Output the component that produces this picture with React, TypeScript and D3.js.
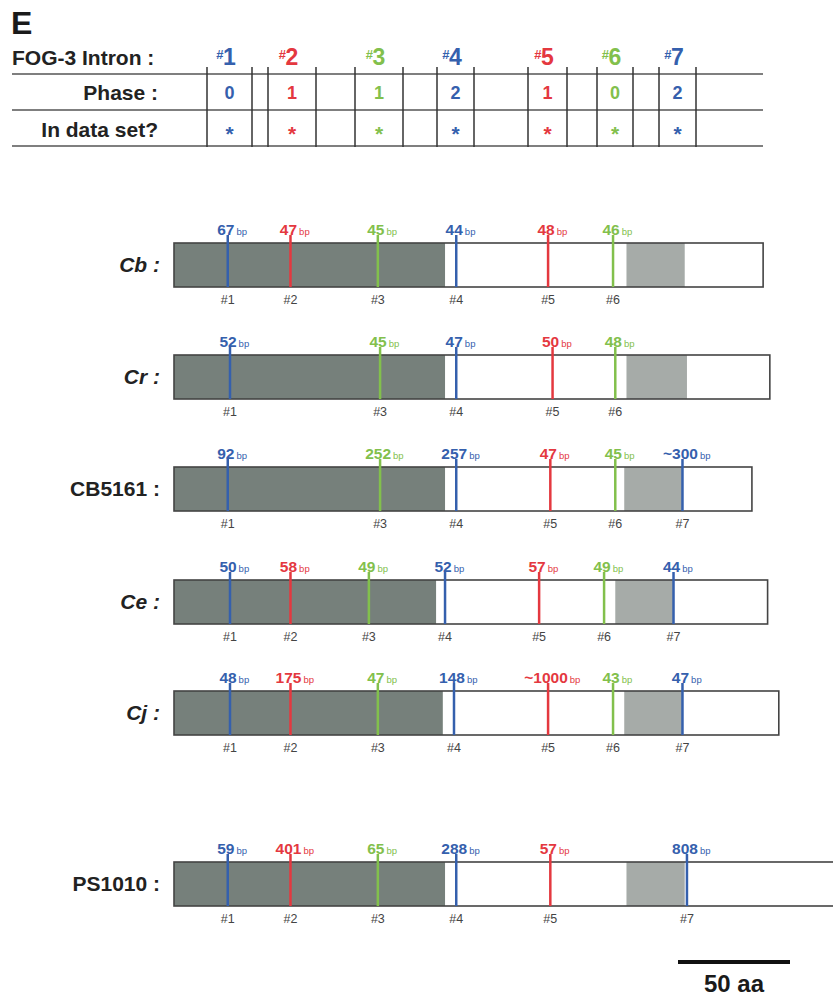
import React from "react";
import * as d3 from "d3";

// ---- data ----
const intronIds = [1, 2, 3, 4, 5, 6, 7];
const phases = ["0", "1", "1", "2", "1", "0", "2"];
const inDataSet = ["*", "*", "*", "*", "*", "*", "*"];
const intronColorKey = ["blue", "red", "green", "blue", "red", "green", "blue"];

const speciesNames = ["Cb", "Cr", "CB5161", "Ce", "Cj", "PS1010"];
const speciesItalic = [true, true, false, true, true, false];
// protein length (aa)
const proteinLength = [263, 266, 258, 265, 270, 300];
// dark domain end (aa)
const darkEnd = [121, 121, 121, 117, 120, 121];
// light domain [start, end] (aa)
const lightStart = [202, 202, 201, 197, 201, 202];
const lightEnd = [228, 229, 227, 223, 227, 228];
// intron positions (aa) per species; null = absent
const intronPos: (number | null)[][] = [
  [24, 52, 91, 126, 167, 196, null],
  [25, null, 92, 126, 169, 197, null],
  [24, null, 92, 126, 168, 197, 227],
  [25, 52, 87, 121, 163, 192, 223],
  [25, 52, 91, 125, 167, 196, 227],
  [24, 52, 91, 126, 168, null, 229],
];
// intron sizes (bp labels)
const intronSize: (string | null)[][] = [
  ["67", "47", "45", "44", "48", "46", null],
  ["52", null, "45", "47", "50", "48", null],
  ["92", null, "252", "257", "47", "45", "~300"],
  ["50", "58", "49", "52", "57", "49", "44"],
  ["48", "175", "47", "148", "~1000", "43", "47"],
  ["59", "401", "65", "288", "57", null, "808"],
];
const scaleBarAA = 50;

// ---- styles / layout ----
const COLORS: Record<string, string> = {
  blue: "#3560ad",
  red: "#e4383f",
  green: "#82c04c",
};
const DARK = "#76807b";
const LIGHT = "#a6aba8";
const FONT = "'Liberation Sans', Arial, Helvetica, sans-serif";
const W = 833;
const H = 1000;
const tableCols: [number, number][] = [
  [207, 252],
  [268, 316],
  [355, 403],
  [437, 474],
  [528, 567],
  [597, 633],
  [659, 696],
];
const rowTop = [243, 355, 467, 580, 691, 862];
const BAR_H = 44;

export default function App() {
  const x = d3.scaleLinear().domain([0, 100]).range([174, 174 + 224]);
  const tableY = [74, 110, 146];

  const labelW = (s: string, fs: number) =>
    s.split("").reduce((a, c) => a + (c === "~" ? 0.584 : 0.556), 0) * fs;

  return (
    <svg
      width={W}
      height={H}
      style={{ position: "absolute", left: 0, top: 0, background: "#fff" }}
      fontFamily={FONT}
    >
      <rect x={0} y={0} width={W} height={H} fill="#fff" />
      {/* Panel letter */}
      <text x={11} y={34} fontSize={32} fontWeight="bold" fill="#1a1a1a">
        E
      </text>
      {/* Table header */}
      <text x={12} y={65} fontSize={21} fontWeight="bold" fill="#222">
        FOG-3 Intron :
      </text>
      <text x={158} y={100} fontSize={21} fontWeight="bold" fill="#222" textAnchor="end">
        Phase :
      </text>
      <text x={158} y={137} fontSize={21} fontWeight="bold" fill="#222" textAnchor="end">
        In data set?
      </text>
      {tableY.map((y, i) => (
        <line key={i} x1={12} x2={763} y1={y} y2={y} stroke="#555" strokeWidth={1.6} />
      ))}
      {tableCols.map(([l, r], i) => {
        const c = (l + r) / 2;
        const col = COLORS[intronColorKey[i]];
        return (
          <g key={i}>
            <line x1={l} x2={l} y1={67} y2={147} stroke="#333" strokeWidth={1.5} />
            <line x1={r} x2={r} y1={67} y2={147} stroke="#333" strokeWidth={1.5} />
            <text x={c - 6} y={59} fontSize={13} fontWeight="bold" fill={col} textAnchor="end">
              #
            </text>
            <text x={c} y={65} fontSize={23} fontWeight="bold" fill={col} textAnchor="middle">
              {intronIds[i]}
            </text>
            <text x={c} y={99} fontSize={18} fontWeight="bold" fill={col} textAnchor="middle">
              {phases[i]}
            </text>
            <text x={c} y={141} fontSize={21} fontWeight="bold" fill={col} textAnchor="middle">
              {inDataSet[i]}
            </text>
          </g>
        );
      })}

      {/* Gene bars */}
      {speciesNames.map((name, si) => {
        const top = rowTop[si];
        const x0 = x(0);
        const x1 = x(proteinLength[si]);
        return (
          <g key={name}>
            <text
              x={160}
              y={top + BAR_H / 2 + 7}
              fontSize={21}
              fontWeight="bold"
              fontStyle={speciesItalic[si] ? "italic" : "normal"}
              fill="#222"
              textAnchor="end"
            >
              {name + " :"}
            </text>
            <rect x={x0} y={top} width={x1 - x0} height={BAR_H} fill="#fff" />
            <rect x={x0} y={top} width={x(darkEnd[si]) - x0} height={BAR_H} fill={DARK} />
            <rect
              x={x(lightStart[si])}
              y={top}
              width={x(lightEnd[si]) - x(lightStart[si])}
              height={BAR_H}
              fill={LIGHT}
            />
            <rect
              x={x0}
              y={top}
              width={x1 - x0}
              height={BAR_H}
              fill="none"
              stroke="#444"
              strokeWidth={1.6}
            />
            {intronPos[si].map((p, ii) => {
              if (p === null) return null;
              const lx = x(p);
              const col = COLORS[intronColorKey[ii]];
              const lab = intronSize[si][ii] as string;
              const fs = 15.5;
              const w = labelW(lab, fs);
              const cx = lx - 2;
              return (
                <g key={ii}>
                  <line
                    x1={lx}
                    x2={lx}
                    y1={top - 8}
                    y2={top + BAR_H}
                    stroke={col}
                    strokeWidth={2.5}
                  />
                  <text
                    x={cx}
                    y={top - 8}
                    fontSize={fs}
                    fontWeight="bold"
                    fill={col}
                    textAnchor="middle"
                  >
                    {lab}
                  </text>
                  <text x={cx + w / 2 + 2} y={top - 8} fontSize={9.5} fill={col}>
                    bp
                  </text>
                  <text
                    x={lx}
                    y={top + BAR_H + 17}
                    fontSize={12.5}
                    fill="#444"
                    textAnchor="middle"
                  >
                    {"#" + intronIds[ii]}
                  </text>
                </g>
              );
            })}
          </g>
        );
      })}

      {/* Scale bar */}
      <line
        x1={x(0) + 504}
        x2={x(0) + 504 + (x(scaleBarAA) - x(0))}
        y1={962}
        y2={962}
        stroke="#111"
        strokeWidth={4}
      />
      <text
        x={x(0) + 504 + (x(scaleBarAA) - x(0)) / 2}
        y={992}
        fontSize={24}
        fontWeight="bold"
        fill="#1a1a1a"
        textAnchor="middle"
      >
        {scaleBarAA + " aa"}
      </text>
    </svg>
  );
}
